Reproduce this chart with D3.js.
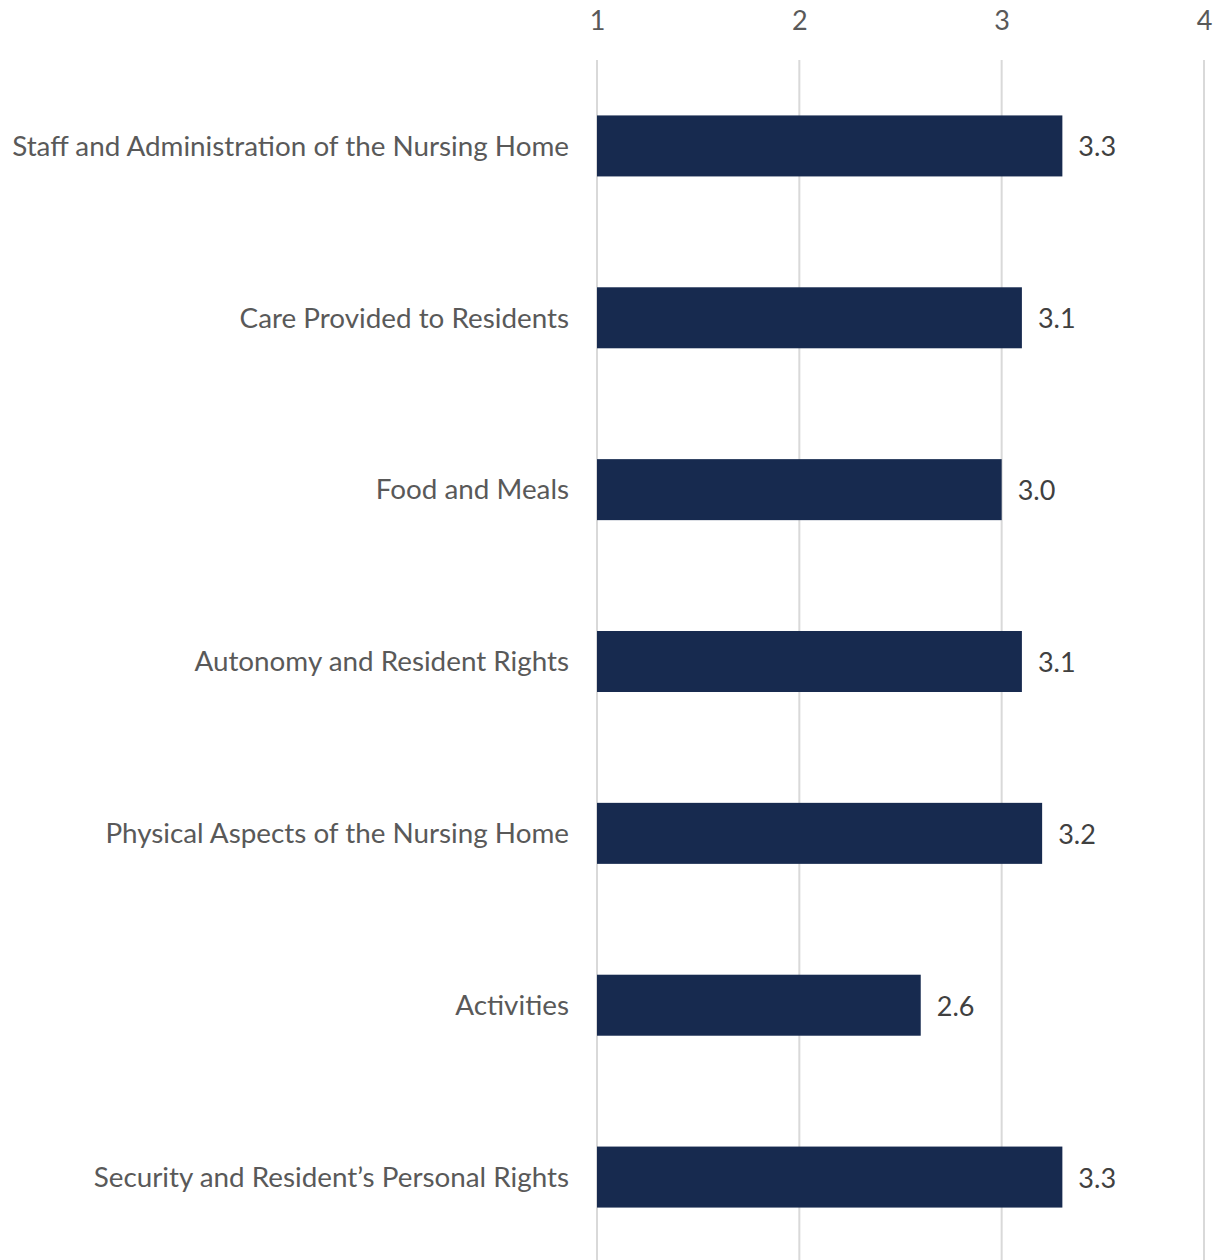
<!DOCTYPE html>
<html>
<head>
<meta charset="utf-8">
<script src="https://cdn.jsdelivr.net/npm/d3@7"></script>
<style>
  html, body { margin: 0; padding: 0; background: #ffffff; }
  svg { display: block; }
</style>
</head>
<body>
<svg id="chart" width="1220" height="1260"></svg>
<script>
// Average ratings by survey domain
const categories = [
  "Staff and Administration of the Nursing Home",
  "Care Provided to Residents",
  "Food and Meals",
  "Autonomy and Resident Rights",
  "Physical Aspects of the Nursing Home",
  "Activities",
  "Security and Resident\u2019s Personal Rights"
];
const values = [3.3, 3.1, 3.0, 3.1, 3.2, 2.6, 3.3];
const tickValues = [1, 2, 3, 4];

const width = 1220, height = 1260;
const fontFamily = "Lato, 'Open Sans', sans-serif";

const svg = d3.select("#chart");

const x = d3.scaleLinear().domain([1, 4]).range([597, 1204]);
const y = d3.scaleBand()
  .domain(categories)
  .range([60, 1263])
  .paddingInner(0.645)
  .paddingOuter(0.3225);

// vertical gridlines
svg.append("g")
  .selectAll("line")
  .data(tickValues)
  .join("line")
  .attr("x1", d => x(d)).attr("x2", d => x(d))
  .attr("y1", 60).attr("y2", height)
  .attr("stroke", "#d9d9d9")
  .attr("stroke-width", 2);

// top axis labels
const axis = svg.append("g")
  .attr("transform", "translate(0,30)")
  .call(d3.axisTop(x).tickValues(tickValues).tickFormat(d3.format("d")).tickSize(0).tickPadding(0));
axis.select(".domain").remove();
axis.selectAll("text")
  .attr("font-family", fontFamily)
  .attr("font-size", 27)
  .attr("fill", "#595959");

// bars
svg.append("g")
  .selectAll("rect")
  .data(values)
  .join("rect")
  .attr("x", x(1))
  .attr("y", (d, i) => y(categories[i]))
  .attr("width", d => x(d) - x(1))
  .attr("height", y.bandwidth())
  .attr("fill", "#172a4f");

// value labels
svg.append("g")
  .selectAll("text")
  .data(values)
  .join("text")
  .attr("x", d => x(d) + 16)
  .attr("y", (d, i) => y(categories[i]) + y.bandwidth() / 2 + 1)
  .attr("dy", "0.35em")
  .attr("font-family", fontFamily)
  .attr("font-size", 27)
  .attr("fill", "#404040")
  .text(d => d.toFixed(1));

// category labels
const catLabels = svg.append("g")
  .selectAll("text")
  .data(categories)
  .join("text")
  .attr("x", 569)
  .attr("y", d => y(d) + y.bandwidth() / 2)
  .attr("dy", "0.35em")
  .attr("text-anchor", "end")
  .attr("font-family", fontFamily)
  .attr("font-size", 26)
  .attr("fill", "#595959")
  .text(d => d);

// fit label font so the longest label spans from the left margin to the axis gap
const longest = d3.max(catLabels.nodes(), n => n.getComputedTextLength());
if (longest > 0) {
  const fs = 26 * 557 / longest;
  catLabels.attr("font-size", Math.min(fs, 30));
}
</script>
</body>
</html>
